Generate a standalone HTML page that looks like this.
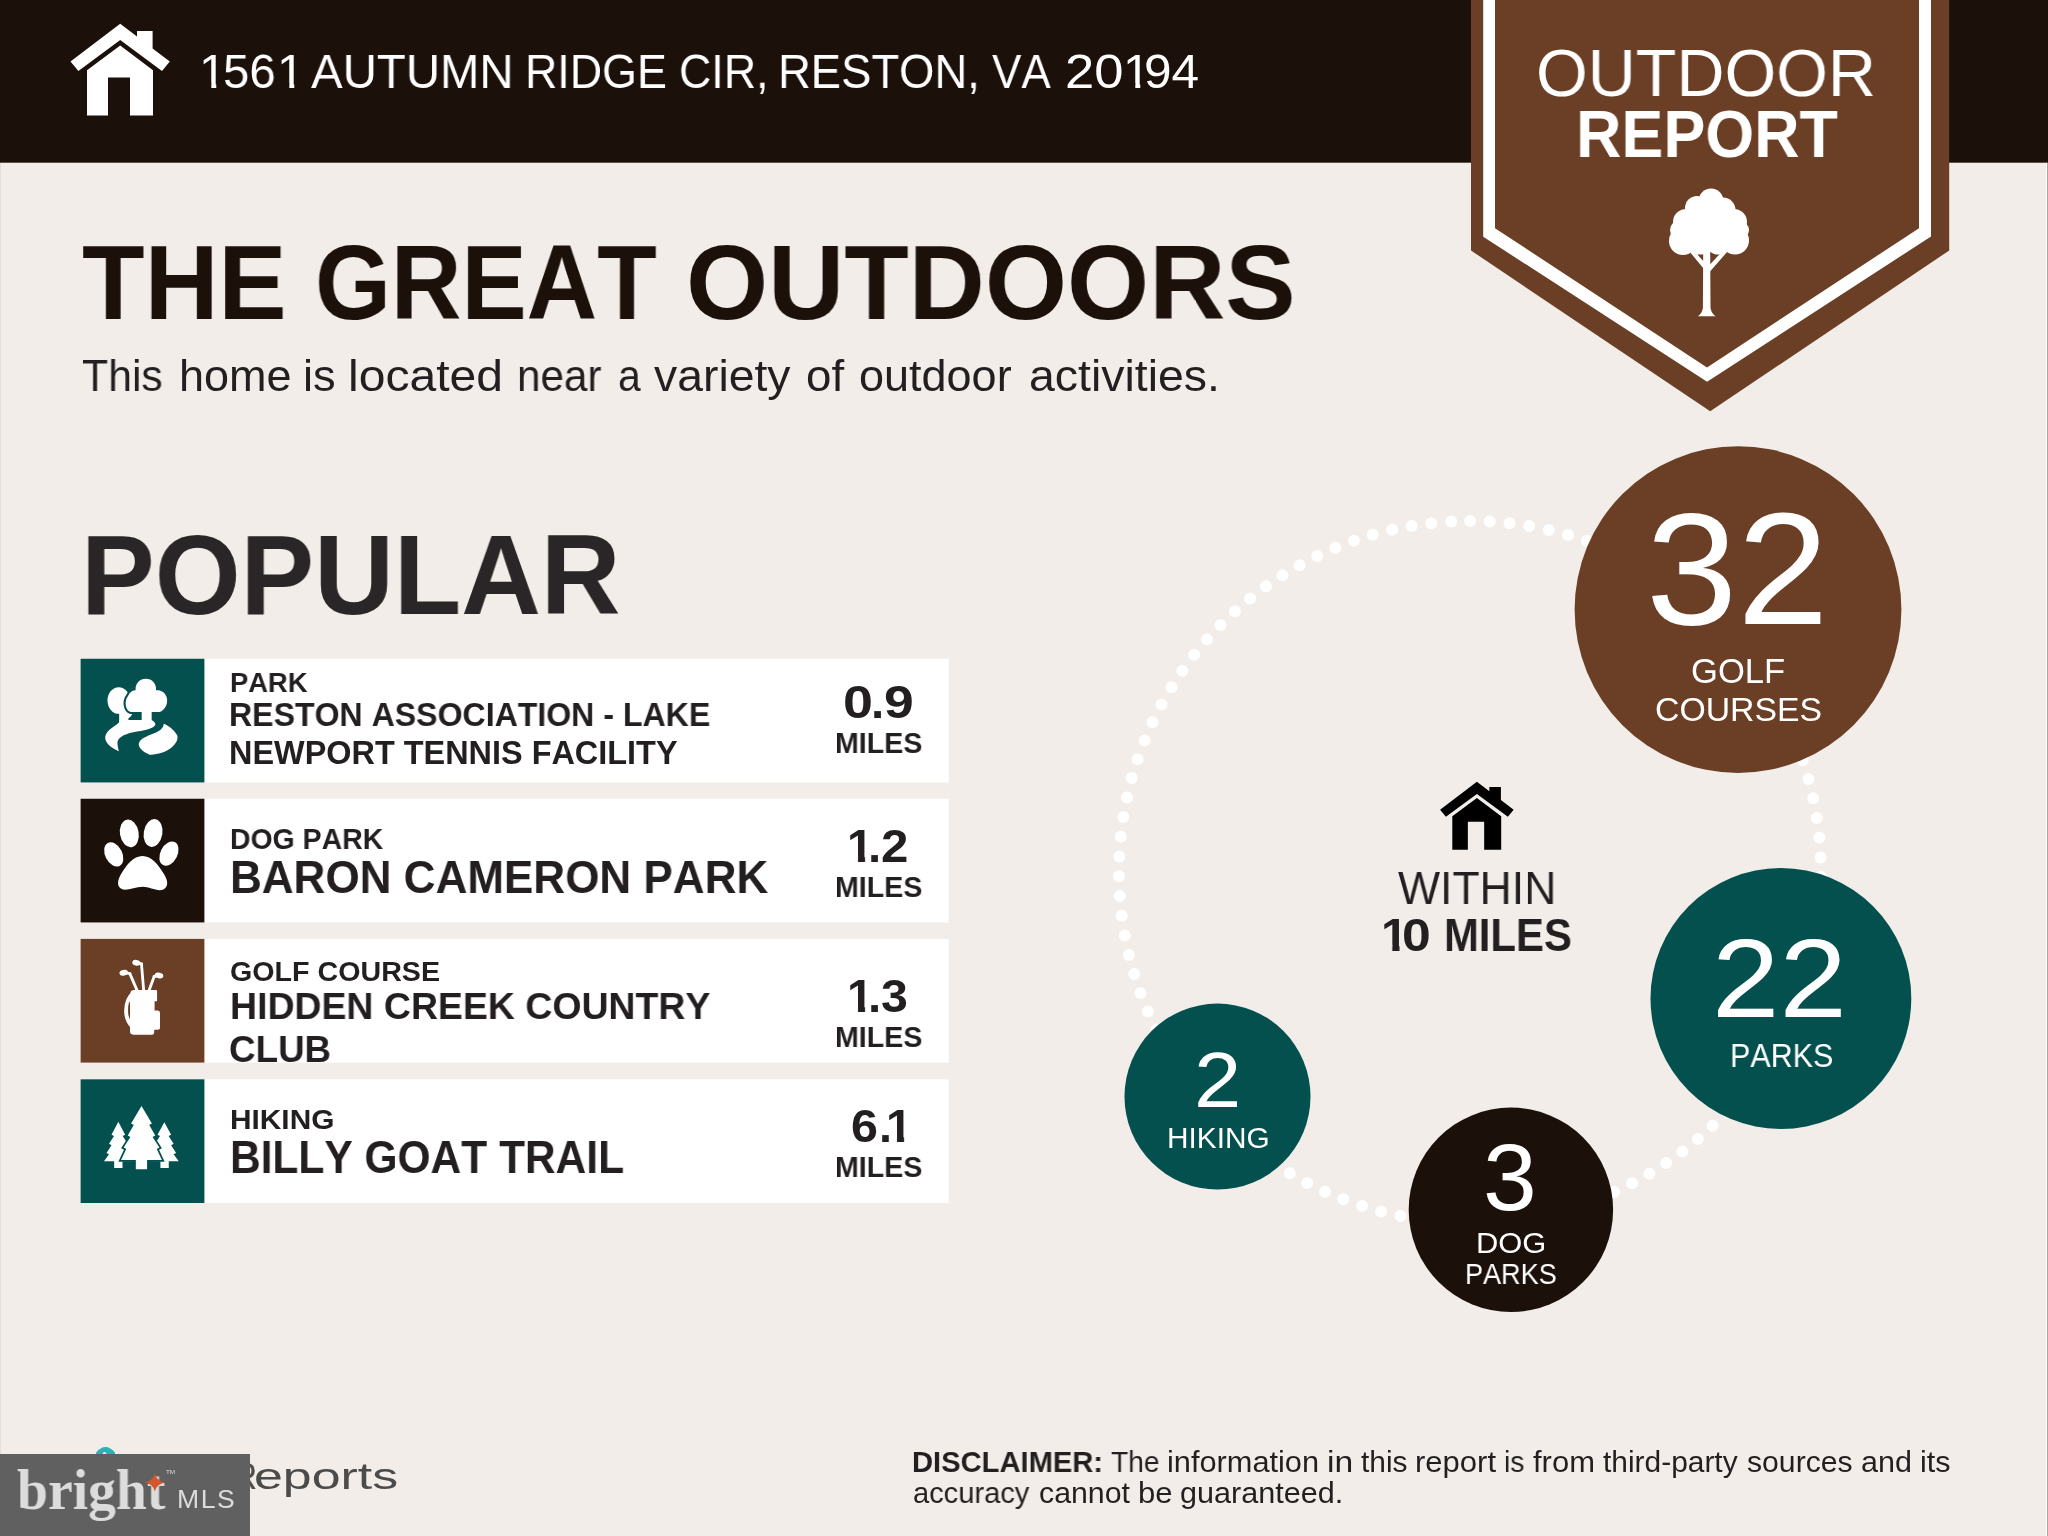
<!DOCTYPE html>
<html lang="en"><head><meta charset="utf-8"><title>Outdoor Report</title>
<style>
html,body{margin:0;padding:0}
html{overflow:hidden;background:#f2ede8}
body{width:2048px;height:1536px;position:relative;overflow:hidden;background:#f2ede8;font-family:"Liberation Sans",sans-serif;font-kerning:none;font-variant-ligatures:none;-webkit-font-smoothing:antialiased}
svg.shapes{position:absolute;left:0;top:0}
.t{position:absolute;white-space:nowrap;line-height:1;transform-origin:0 0;margin:0;will-change:transform}

</style></head><body>
<svg class="shapes" width="2048" height="1536" viewBox="0 0 2048 1536">
<rect x="0" y="0" width="2048" height="162.7" fill="#1c100b"/>
<rect x="0" y="163" width="1" height="1373" fill="#e2ddd8"/>
<rect x="2046" y="163" width="1" height="1373" fill="#fffdfa"/>
<rect x="2047" y="163" width="1" height="1373" fill="#aba6a1"/>
<path d="M120.2 23.7L137 36.4V30.9H152.6V48.4L169.8 61.6L162 70.9L120.2 40.1L78.4 70.9L70.5 61.6ZM120.2 45.5L153 70.2V115.5H130V77.6H108V115.5H87V70.2Z" fill="#fff"/>
<path d="M1471 0V250.5L1710.2 411.3L1949.2 250.5V0Z" fill="#6b3f26"/>
<path d="M1483.2 0V236.7L1707.1 381.7L1931 236.5V0H1919V228.2L1707 367.5L1495 228.2V0Z" fill="#fff"/>
<g fill="#fff"><circle cx="1711" cy="201" r="12.5"/><circle cx="1697" cy="208" r="12"/><circle cx="1723" cy="210" r="12.5"/><circle cx="1686" cy="222" r="13"/><circle cx="1734" cy="222" r="13"/><circle cx="1680" cy="230" r="10"/><circle cx="1683" cy="241" r="14"/><circle cx="1735" cy="240.5" r="14"/><circle cx="1709" cy="226" r="26"/><circle cx="1700" cy="243" r="11.5"/><circle cx="1718" cy="243" r="11.5"/><circle cx="1740" cy="230" r="9"/><path d="M1703.2 250H1710.2L1710.5 308Q1711.5 313.5 1715.6 316.2H1697.8Q1702 313.5 1702.9 308Z"/><path d="M1689.5 251.5L1693.5 250L1704.5 262.5L1703.5 268.5Z"/><path d="M1727.5 251.5L1723.5 250L1709.5 265L1710 271.5Z"/></g>
<rect x="80.6" y="658.75" width="868.1" height="123.7" fill="#fff"/>
<rect x="80.6" y="658.75" width="123.8" height="123.7" fill="#03504f"/>
<rect x="80.6" y="798.75" width="868.1" height="123.7" fill="#fff"/>
<rect x="80.6" y="798.75" width="123.8" height="123.7" fill="#1c100b"/>
<rect x="80.6" y="938.9" width="868.1" height="123.7" fill="#fff"/>
<rect x="80.6" y="938.9" width="123.8" height="123.7" fill="#6b3f26"/>
<rect x="80.6" y="1079.3" width="868.1" height="123.7" fill="#fff"/>
<rect x="80.6" y="1079.3" width="123.8" height="123.7" fill="#03504f"/>
<circle cx="1470" cy="872" r="351" fill="none" stroke="#fff" stroke-width="12" stroke-linecap="round" stroke-dasharray="0 19.8686" transform="rotate(-90 1470 872)"/>
<circle cx="1738" cy="609.6" r="163.4" fill="#6b3f26"/>
<circle cx="1780.9" cy="998.5" r="130.4" fill="#03504f"/>
<circle cx="1217.5" cy="1096.6" r="93" fill="#03504f"/>
<circle cx="1510.9" cy="1209.8" r="102.2" fill="#1c100b"/>
<path d="M120.2 23.7L137 36.4V30.9H152.6V48.4L169.8 61.6L162 70.9L120.2 40.1L78.4 70.9L70.5 61.6ZM120.2 45.5L153 70.2V115.5H130V77.6H108V115.5H87V70.2Z" fill="#000" transform="translate(1387.83 764.19) scale(0.741)"/>
<g transform="translate(80 658) scale(0.08333)"><g fill="#fff"><ellipse cx="465" cy="510" rx="135" ry="160"/><rect x="470" y="600" width="180" height="200"/></g><g fill="#03504f" stroke="#03504f" stroke-width="50" stroke-linejoin="round"><path d="M610 648C545 630 525 520 578 452C598 405 640 386 668 388C658 305 720 248 790 248C862 248 922 305 912 388C960 378 1022 410 1040 470C1062 545 1020 625 955 648Z"/></g><polygon points="580,745 740,745 740,640 640,640 612,700 582,722" fill="#03504f"/><g fill="#fff"><path d="M610 648C545 630 525 520 578 452C598 405 640 386 668 388C658 305 720 248 790 248C862 248 922 305 912 388C960 378 1022 410 1040 470C1062 545 1020 625 955 648Z"/><rect x="740" y="600" width="120" height="200"/><path d="M470 745H860C885 760 905 775 905 800C880 850 760 870 640 890C520 915 440 960 450 1030C452 1065 458 1090 468 1118C400 1090 300 1030 302 950C310 860 440 810 470 770Z"/><path d="M1005 788C1060 810 1130 860 1165 925C1185 975 1150 1030 1100 1075C1030 1130 920 1165 835 1160C760 1130 700 1080 705 1030C715 980 770 950 860 915C950 880 1000 850 1005 788Z"/></g></g>
<g transform="translate(80 798) scale(0.08333)"><g fill="#fff"><ellipse cx="592" cy="425" rx="112" ry="168" transform="rotate(-10 592 425)"/><ellipse cx="877" cy="420" rx="112" ry="168" transform="rotate(10 877 420)"/><ellipse cx="405" cy="677" rx="102" ry="155" transform="rotate(-27 405 677)"/><ellipse cx="1067" cy="667" rx="102" ry="155" transform="rotate(27 1067 667)"/><path d="M750 695C640 695 560 800 500 900C450 980 435 1060 500 1092C560 1122 660 1065 750 1065C840 1065 930 1128 1000 1097C1072 1062 1052 980 1000 900C940 800 860 695 750 695Z"/></g></g>
<g transform="translate(80 938) scale(0.08333)"><g fill="#fff" stroke="#fff" stroke-linecap="round" stroke-linejoin="round"><path stroke="none" d="M640 625H915Q925 625 925 640V760H895V870H935Q960 870 960 900V1080Q960 1100 935 1100H890V1130Q890 1160 860 1160H640Q600 1160 600 1120V700Q600 625 640 625Z"/><path fill="none" stroke-width="48" d="M650 655C572 715 552 800 554 880C556 960 585 1020 625 1060"/><path fill="none" stroke-width="34" d="M690 640L598 428"/><ellipse cx="525" cy="418" rx="52" ry="34" stroke="none" transform="rotate(-12 525 418)"/><path fill="none" stroke-width="34" d="M598 428L540 415"/><path fill="none" stroke-width="34" d="M765 640L738 312"/><ellipse cx="675" cy="298" rx="48" ry="34" stroke="none" transform="rotate(12 675 298)"/><path fill="none" stroke-width="34" d="M738 312L690 300"/><path fill="none" stroke-width="34" d="M825 640L890 462"/><ellipse cx="948" cy="450" rx="52" ry="34" stroke="none" transform="rotate(12 948 450)"/><path fill="none" stroke-width="34" d="M890 462L935 452"/></g><path d="M592 770C582 830 582 900 596 955" fill="none" stroke="#6b3f26" stroke-width="9"/></g>
<g transform="translate(80 1078) scale(0.08333)"><g fill="#fff"><polygon points="460,525 541.7,680 511.7,696.5 571.8,790 541.8,806.5 601.9,900 571.9,916.5 632,1000 288,1000 348.1,916.5 318.1,900 378.2,806.5 348.2,790 408.3,696.5 378.3,680"/><rect x="410" y="990" width="100" height="90"/><polygon points="1012,530 1093.7,680 1063.7,696.5 1123.8,790 1093.8,806.5 1153.9,900 1123.9,916.5 1184,1000 840,1000 900.1,916.5 870.1,900 930.2,806.5 900.2,790 960.3,696.5 930.3,680"/><rect x="965" y="990" width="100" height="90"/></g><g fill="#03504f" stroke="#03504f" stroke-width="42" stroke-linejoin="miter"><polygon points="738,335 863,545 831,562.6 903,690 871,707.6 953,835 921,852.6 983,985 493,985 555,852.6 523,835 605,707.6 573,690 645,562.6 613,545"/><rect x="670" y="980" width="135" height="115"/></g><g fill="#fff"><polygon points="738,335 863,545 831,562.6 903,690 871,707.6 953,835 921,852.6 983,985 493,985 555,852.6 523,835 605,707.6 573,690 645,562.6 613,545"/><rect x="670" y="980" width="135" height="115"/></g></g>
<path d="M96 1456V1452.5Q105.5 1441.5 115 1452.5V1456Z" fill="#2ab3b5"/>
<circle cx="104.5" cy="1453.5" r="1.6" fill="#dff"/>
</svg>
<div class="t" style="left:198.95px;top:47.10px;font-size:48.98px;color:#ffffff;transform:scaleX(1.0000);clip-path:polygon(0 0,17.27px 0,17.27px 100%,12.32px 100%,12.32px 36.14px,0 36.14px)">1</div>
<div class="t" style="left:277.10px;top:47.10px;font-size:48.98px;color:#ffffff;transform:scaleX(1.0000);clip-path:polygon(0 0,17.27px 0,17.27px 100%,12.32px 100%,12.32px 36.14px,0 36.14px)">1</div>
<div class="t" style="left:1123.35px;top:47.10px;font-size:48.98px;color:#ffffff;transform:scaleX(1.0000);clip-path:polygon(0 0,17.27px 0,17.27px 100%,12.32px 100%,12.32px 36.14px,0 36.14px)">1</div>
<div class="t" style="left:222.50px;top:47.10px;font-size:48.98px;color:#ffffff;transform:scaleX(0.9669)">56</div>
<div class="t" style="left:311.16px;top:47.10px;font-size:48.98px;color:#ffffff;transform:scaleX(0.9676)">AUTUMN</div>
<div class="t" style="left:525.08px;top:47.10px;font-size:48.98px;color:#ffffff;transform:scaleX(0.9144)">RIDGE</div>
<div class="t" style="left:678.93px;top:47.10px;font-size:48.98px;color:#ffffff;transform:scaleX(0.9147)">CIR,</div>
<div class="t" style="left:778.47px;top:47.10px;font-size:48.98px;color:#ffffff;transform:scaleX(0.9274)">RESTON,</div>
<div class="t" style="left:992.41px;top:47.10px;font-size:48.98px;color:#ffffff;transform:scaleX(0.8981)">VA</div>
<div class="t" style="left:1064.86px;top:47.10px;font-size:48.98px;color:#ffffff;transform:scaleX(1.0728)">20</div>
<div class="t" style="left:1143.93px;top:47.10px;font-size:48.98px;color:#ffffff;transform:scaleX(1.0118)">94</div>
<div class="t" style="left:1536.25px;top:40.00px;font-size:66.86px;color:#ffffff;transform:scaleX(0.9945)">OUTDOOR</div>
<div class="t" style="left:1575.80px;top:101.00px;font-size:66.86px;font-weight:700;color:#ffffff;transform:scaleX(0.9400)">REPORT</div>
<div class="t" style="left:81.85px;top:230.00px;font-size:105.82px;font-weight:700;color:#1c100b;transform:scaleX(0.9670)">THE</div>
<div class="t" style="left:314.74px;top:230.00px;font-size:105.82px;font-weight:700;color:#1c100b;transform:scaleX(0.9229)">GREAT</div>
<div class="t" style="left:685.67px;top:230.00px;font-size:105.82px;font-weight:700;color:#1c100b;transform:scaleX(0.9972)">OUTDOORS</div>
<div class="t" style="left:82.04px;top:354.50px;font-size:43.61px;color:#231f20;transform:scaleX(0.9802)">This</div>
<div class="t" style="left:179.38px;top:354.50px;font-size:43.61px;color:#231f20;transform:scaleX(1.0324)">home</div>
<div class="t" style="left:303.47px;top:354.50px;font-size:43.61px;color:#231f20;transform:scaleX(1.0370)">is</div>
<div class="t" style="left:348.01px;top:354.50px;font-size:43.61px;color:#231f20;transform:scaleX(1.1029)">located</div>
<div class="t" style="left:517.20px;top:354.50px;font-size:43.61px;color:#231f20;transform:scaleX(0.9682)">near</div>
<div class="t" style="left:617.76px;top:354.50px;font-size:43.61px;color:#231f20;transform:scaleX(0.9374)">a</div>
<div class="t" style="left:653.59px;top:354.50px;font-size:43.61px;color:#231f20;transform:scaleX(1.0627)">variety</div>
<div class="t" style="left:805.58px;top:354.50px;font-size:43.61px;color:#231f20;transform:scaleX(1.0476)">of</div>
<div class="t" style="left:859.36px;top:354.50px;font-size:43.61px;color:#231f20;transform:scaleX(1.0320)">outdoor</div>
<div class="t" style="left:1029.28px;top:354.50px;font-size:43.61px;color:#231f20;transform:scaleX(1.0648)">activities.</div>
<div class="t" style="left:81.12px;top:518.50px;font-size:112.65px;font-weight:700;color:#2a2526;transform:scaleX(0.9798)">POPULAR</div>
<div class="t" style="left:229.67px;top:667.50px;font-size:28.49px;font-weight:700;color:#231f20;transform:scaleX(0.9598)">PARK</div>
<div class="t" style="left:229.35px;top:699.25px;font-size:32.34px;font-weight:700;color:#231f20;transform:scaleX(0.9923)">RESTON ASSOCIATION - LAKE</div>
<div class="t" style="left:229.33px;top:736.50px;font-size:32.34px;font-weight:700;color:#231f20;transform:scaleX(1.0030)">NEWPORT TENNIS FACILITY</div>
<div class="t" style="left:843.27px;top:679.70px;font-size:45.30px;font-weight:700;color:#231f20;transform:scaleX(1.1883)">0</div>
<div class="t" style="left:871.38px;top:679.70px;font-size:45.30px;font-weight:700;color:#231f20;transform:scaleX(1.0481)">.</div>
<div class="t" style="left:884.15px;top:679.70px;font-size:45.30px;font-weight:700;color:#231f20;transform:scaleX(1.1804)">9</div>
<div class="t" style="left:835.34px;top:727.70px;font-size:29.51px;font-weight:700;color:#231f20;transform:scaleX(0.9690)">MILES</div>
<div class="t" style="left:229.60px;top:825.40px;font-size:29.07px;font-weight:700;color:#231f20;transform:scaleX(0.9777)">DOG PARK</div>
<div class="t" style="left:229.55px;top:854.75px;font-size:45.79px;font-weight:700;color:#231f20;transform:scaleX(0.9619)">BARON CAMERON PARK</div>
<div class="t" style="left:847.29px;top:823.90px;font-size:45.30px;font-weight:700;color:#231f20;transform:scaleX(1.0400);clip-path:polygon(0 0,17.41px 0,17.41px 100%,10.57px 100%,10.57px 32.18px,0 32.18px)">1</div>
<div class="t" style="left:867.58px;top:823.90px;font-size:45.30px;font-weight:700;color:#231f20;transform:scaleX(1.0481)">.</div>
<div class="t" style="left:881.49px;top:823.90px;font-size:45.30px;font-weight:700;color:#231f20;transform:scaleX(1.0867)">2</div>
<div class="t" style="left:835.34px;top:871.70px;font-size:29.51px;font-weight:700;color:#231f20;transform:scaleX(0.9690)">MILES</div>
<div class="t" style="left:229.83px;top:957.60px;font-size:27.91px;font-weight:700;color:#231f20;transform:scaleX(1.0262)">GOLF COURSE</div>
<div class="t" style="left:229.60px;top:988.00px;font-size:37.65px;font-weight:700;color:#231f20;transform:scaleX(0.9944)">HIDDEN CREEK COUNTRY</div>
<div class="t" style="left:229.49px;top:1030.50px;font-size:37.65px;font-weight:700;color:#231f20;transform:scaleX(0.9772)">CLUB</div>
<div class="t" style="left:847.29px;top:973.90px;font-size:45.30px;font-weight:700;color:#231f20;transform:scaleX(1.0400);clip-path:polygon(0 0,17.41px 0,17.41px 100%,10.57px 100%,10.57px 32.18px,0 32.18px)">1</div>
<div class="t" style="left:867.58px;top:973.90px;font-size:45.30px;font-weight:700;color:#231f20;transform:scaleX(1.0481)">.</div>
<div class="t" style="left:881.49px;top:973.90px;font-size:45.30px;font-weight:700;color:#231f20;transform:scaleX(1.0658)">3</div>
<div class="t" style="left:835.34px;top:1021.70px;font-size:29.51px;font-weight:700;color:#231f20;transform:scaleX(0.9690)">MILES</div>
<div class="t" style="left:229.90px;top:1105.40px;font-size:28.56px;font-weight:700;color:#231f20;transform:scaleX(1.0449)">HIKING</div>
<div class="t" style="left:229.66px;top:1135.10px;font-size:45.35px;font-weight:700;color:#231f20;transform:scaleX(0.9369)">BILLY GOAT TRAIL</div>
<div class="t" style="left:851.13px;top:1103.70px;font-size:45.30px;font-weight:700;color:#231f20;transform:scaleX(1.0686)">6</div>
<div class="t" style="left:878.63px;top:1103.70px;font-size:45.30px;font-weight:700;color:#231f20;transform:scaleX(1.0325)">.</div>
<div class="t" style="left:886.04px;top:1103.70px;font-size:45.30px;font-weight:700;color:#231f20;transform:scaleX(1.0400);clip-path:polygon(0 0,17.41px 0,17.41px 100%,10.57px 100%,10.57px 32.18px,0 32.18px)">1</div>
<div class="t" style="left:835.34px;top:1151.70px;font-size:29.51px;font-weight:700;color:#231f20;transform:scaleX(0.9690)">MILES</div>
<div class="t" style="left:1645.65px;top:489.74px;font-size:159.32px;color:#ffffff;transform:scaleX(1.0305)">32</div>
<div class="t" style="left:1691.46px;top:654.00px;font-size:34.16px;color:#ffffff;transform:scaleX(1.0131)">GOLF</div>
<div class="t" style="left:1654.68px;top:692.50px;font-size:33.72px;color:#ffffff;transform:scaleX(1.0019)">COURSES</div>
<div class="t" style="left:1712.41px;top:922.90px;font-size:111.14px;color:#ffffff;transform:scaleX(1.0903)">22</div>
<div class="t" style="left:1729.60px;top:1039.90px;font-size:32.56px;color:#ffffff;transform:scaleX(0.9358)">PARKS</div>
<div class="t" style="left:1193.63px;top:1040.60px;font-size:78.34px;color:#ffffff;transform:scaleX(1.0844)">2</div>
<div class="t" style="left:1167.46px;top:1122.60px;font-size:29.80px;color:#ffffff;transform:scaleX(0.9971)">HIKING</div>
<div class="t" style="left:1483.02px;top:1130.88px;font-size:94.07px;color:#ffffff;transform:scaleX(1.0269)">3</div>
<div class="t" style="left:1476.17px;top:1229.30px;font-size:29.07px;color:#ffffff;transform:scaleX(1.0623)">DOG</div>
<div class="t" style="left:1465.28px;top:1259.70px;font-size:28.92px;color:#ffffff;transform:scaleX(0.9359)">PARKS</div>
<div class="t" style="left:1398.40px;top:865.90px;font-size:45.64px;color:#231f20;transform:scaleX(0.9765)">WITHIN</div>
<div class="t" style="left:1381.32px;top:911.70px;font-size:46.66px;font-weight:700;color:#231f20;transform:scaleX(1.0400);clip-path:polygon(0 0,17.92px 0,17.92px 100%,10.89px 100%,10.89px 33.04px,0 33.04px)">1</div>
<div class="t" style="left:1401.65px;top:911.70px;font-size:46.66px;font-weight:700;color:#231f20;transform:scaleX(1.1086)">0</div>
<div class="t" style="left:1443.60px;top:911.70px;font-size:46.66px;font-weight:700;color:#231f20;transform:scaleX(0.8966)">MILES</div>
<div class="t" style="left:911.80px;top:1448.40px;font-size:29.22px;font-weight:700;color:#231f20;transform:scaleX(0.9972)">DISCLAIMER:</div>
<div class="t" style="left:1111.37px;top:1448.40px;font-size:29.22px;color:#231f20;transform:scaleX(0.9660)">The</div>
<div class="t" style="left:1167.44px;top:1448.40px;font-size:29.22px;color:#231f20;transform:scaleX(1.0519)">information</div>
<div class="t" style="left:1326.50px;top:1448.40px;font-size:29.22px;color:#231f20;transform:scaleX(1.1514)">in</div>
<div class="t" style="left:1360.80px;top:1448.40px;font-size:29.22px;color:#231f20;transform:scaleX(1.0234)">this</div>
<div class="t" style="left:1415.44px;top:1448.40px;font-size:29.22px;color:#231f20;transform:scaleX(1.0616)">report</div>
<div class="t" style="left:1504.36px;top:1448.40px;font-size:29.22px;color:#231f20;transform:scaleX(0.9673)">is</div>
<div class="t" style="left:1533.31px;top:1448.40px;font-size:29.22px;color:#231f20;transform:scaleX(1.0597)">from</div>
<div class="t" style="left:1602.95px;top:1448.40px;font-size:29.22px;color:#231f20;transform:scaleX(1.0234)">third-party</div>
<div class="t" style="left:1747.36px;top:1448.40px;font-size:29.22px;color:#231f20;transform:scaleX(1.0324)">sources</div>
<div class="t" style="left:1861.30px;top:1448.40px;font-size:29.22px;color:#231f20;transform:scaleX(1.0454)">and</div>
<div class="t" style="left:1920.16px;top:1448.40px;font-size:29.22px;color:#231f20;transform:scaleX(1.0454)">its</div>
<div class="t" style="left:912.51px;top:1479.00px;font-size:29.22px;color:#231f20;transform:scaleX(0.9950)">accuracy</div>
<div class="t" style="left:1038.71px;top:1479.00px;font-size:29.22px;color:#231f20;transform:scaleX(1.0374)">cannot</div>
<div class="t" style="left:1137.80px;top:1479.00px;font-size:29.22px;color:#231f20;transform:scaleX(1.0641)">be</div>
<div class="t" style="left:1179.97px;top:1479.00px;font-size:29.22px;color:#231f20;transform:scaleX(1.0465)">guaranteed.</div>
<div class="t" style="left:254.30px;top:1458.70px;font-size:36.53px;color:#4b4b4b;transform:scaleX(1.4201)">eports</div>
<div class="t" style="left:231.63px;top:1458.70px;font-size:36.55px;color:#4b4b4b;transform:scaleX(0.9585)">R</div>
<div class="wm" style="position:absolute;left:0;top:1454px;width:249.8px;height:82px;background:#606060"></div>
<div class="t" style="left:17.29px;top:1460.60px;font-size:57.00px;font-family:'Liberation Serif',serif;font-weight:700;color:#dcdcdc;transform:scaleX(0.9765)">bright</div>
<div class="t" style="left:176.52px;top:1486.00px;font-size:26.02px;letter-spacing:0.060em;color:#dcdcdc;transform:scaleX(1.0207)">MLS</div>
<div class="t" style="left:165.66px;top:1469.50px;font-size:5.96px;color:#dcdcdc;transform:scaleX(1.0648)">TM</div>
<svg class="shapes" width="2048" height="1536" viewBox="0 0 2048 1536"><path fill="#d2562e" d="M154.9 1473.6Q156.5 1481 164.9 1482.6Q156.5 1484.2 154.9 1491.6Q153.3 1484.2 144.9 1482.6Q153.3 1481 154.9 1473.6Z"/></svg>

</body></html>
